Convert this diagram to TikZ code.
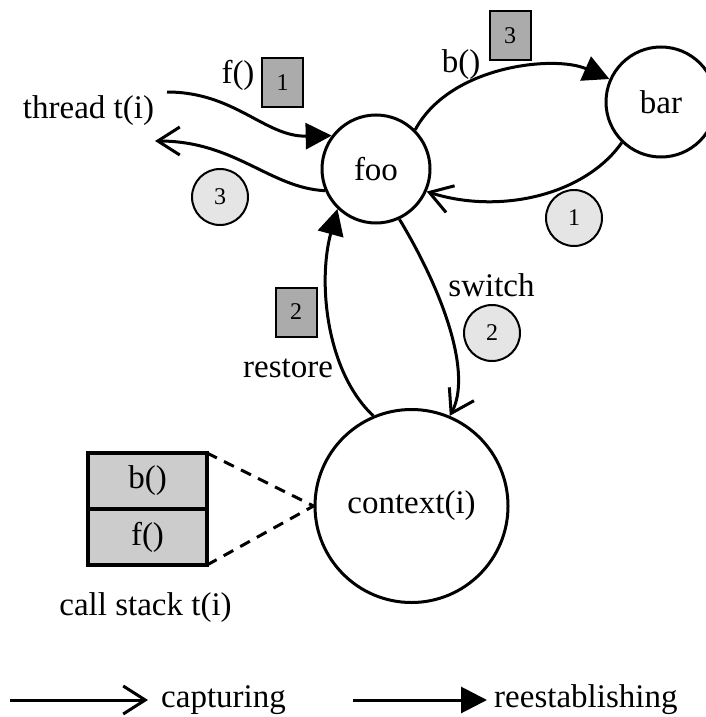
\documentclass[tikz,border=0pt]{standalone}
\usepackage{fontspec}
\setmainfont{Liberation Serif}
\usetikzlibrary{arrows.meta,positioning}

\begin{document}
\begin{tikzpicture}[x=1pt,y=-1pt,inner sep=0pt,font=\fontsize{33}{38}\selectfont,
    state/.style={circle,draw,line width=3pt},
    seqbox/.style={draw,line width=2pt,fill=black!33,minimum width=41pt,minimum height=49pt,font=\fontsize{24}{24}\selectfont},
    seqcirc/.style={circle,draw,line width=2pt,fill=black!10,minimum size=56pt,font=\fontsize{24}{24}\selectfont},
    frame/.style={draw,line width=3.5pt,fill=black!20,outer sep=0pt,minimum width=119pt,minimum height=56pt},
    capt/.style={line width=3pt,-{Straight Barb[length=22pt,width=28pt]}},
    reest/.style={line width=3pt,-{Triangle[length=26pt,width=26pt]}}] %
    \useasboundingbox (0,0) rectangle (706,717); %
    \node[state,minimum size=108pt] (foo) at (376,169) {foo} ; %
    \node[state,minimum size=110pt] (bar) at (661,102) {bar} ; %
    \node[state,minimum size=193pt] (ctx) at (411.5,506) {context(i)} ; %
    \node[frame] (bcall) at (147.5,481) {b()} ;
    \node[frame,below=0pt of bcall] (fcall) {f()} ;
    \node[anchor=base] (stacklbl) at (145.5,615) {call stack t(i)};
    \node[anchor=base] (thread) at (88.5,118) {thread t(i)};
    \coordinate (fin) at (167,92);
    \coordinate (tout) at (155,141);
    % calls and returns
    \draw[reest] (fin) .. controls (235,92) and (265,137) .. (foo.143);
    \draw[capt] (foo.203) .. controls (270,188) and (235,141) .. (tout);
    \draw[reest] (foo.45) .. controls (450,65) and (555,55) .. (bar.156);
    \draw[capt] (bar.226) .. controls (585,195) and (500,215) .. (foo.336);
    \draw[capt] (foo.295) .. controls (445,295) and (472,375) .. (ctx.67);
    \draw[reest] (ctx.113) .. controls (325,370) and (318,280) .. (foo.226);
    \draw[line width=3pt,dash pattern=on 11pt off 8pt] (bcall.north east) -- (ctx.west);
    \draw[line width=3pt,dash pattern=on 11pt off 8pt] (fcall.south east) -- (ctx.west);
    % labels
    \node[anchor=base] (fcalllbl) at (238,83) {f()};
    \node[seqbox] (sq1) at (282.5,82.5) {1};
    \node[anchor=base] (bcalllbl) at (461,72) {b()};
    \node[seqbox] (sq3) at (510,36) {3};
    \node[anchor=base] (switchlbl) at (491.5,296) {switch};
    \node[seqbox] (sq2) at (296,312) {2};
    \node[anchor=base] (restorelbl) at (288,377) {restore};
    \node[seqcirc] (c1) at (574,218) {1};
    \node[seqcirc] (c2) at (492,333) {2};
    \node[seqcirc] (c3) at (220,197) {3};
    % legend
    \coordinate (l1a) at (10,700);
    \coordinate (l1b) at (148,700);
    \coordinate (l2a) at (353,700);
    \coordinate (l2b) at (487,700);
    \draw[capt] (l1a) -- (l1b);
    \node[right=13pt of l1b] (captlbl) {capturing};
    \draw[reest] (l2a) -- (l2b);
    \node[right=7pt of l2b] (reestlbl) {reestablishing};
\end{tikzpicture}
\end{document}
